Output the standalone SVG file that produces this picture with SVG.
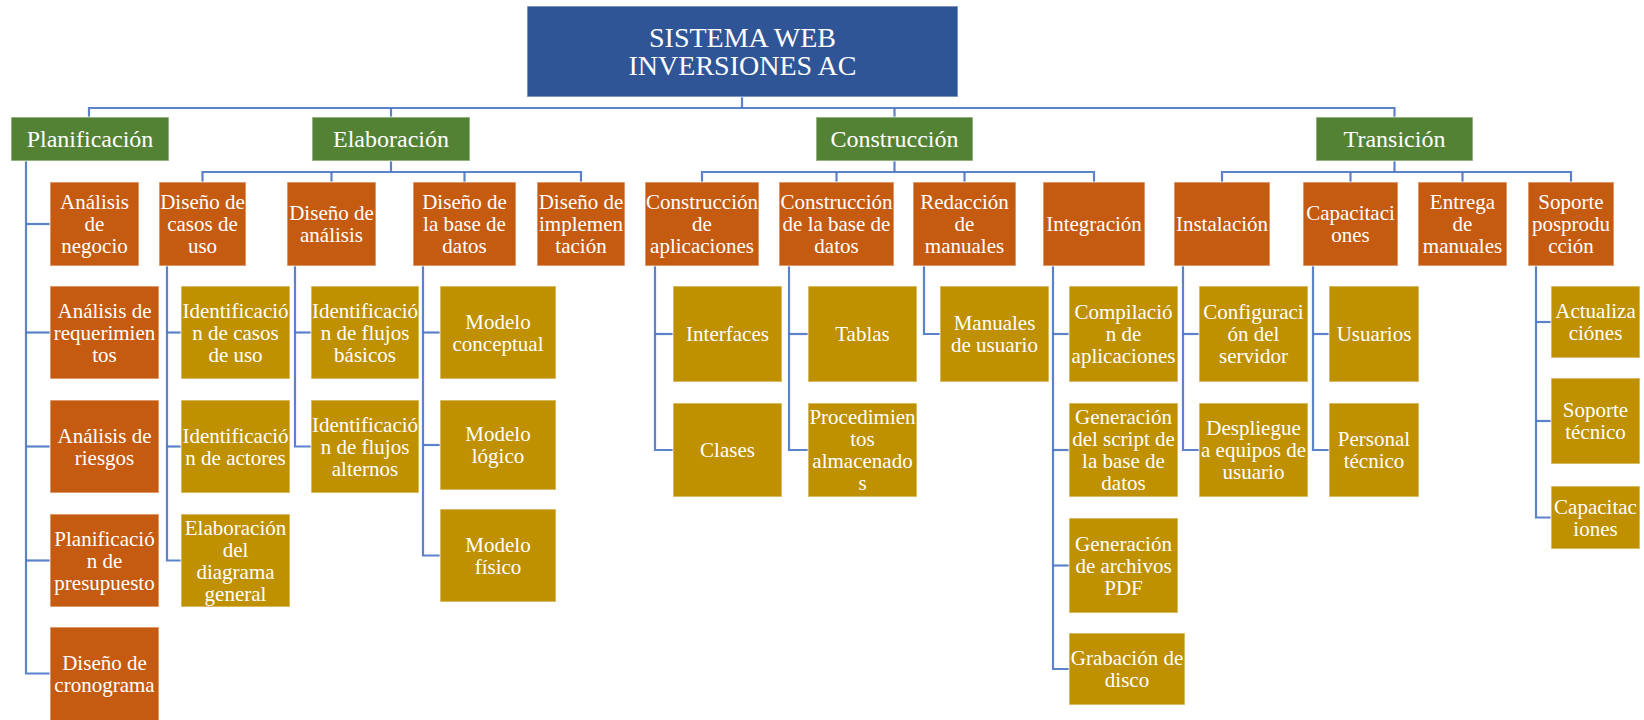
<svg xmlns="http://www.w3.org/2000/svg" width="1644" height="720" viewBox="0 0 1644 720">
  <style>
    .box { stroke: #ffffff; stroke-opacity: 0.5; stroke-width: 1.5; }
    .root { fill: #2F5597; }
    .phase { fill: #548235; }
    .task { fill: #C55A11; }
    .sub { fill: #BF9000; }
    text { font-family: "Liberation Serif", Tinos, "Times New Roman", Times, "Nimbus Roman", "DejaVu Serif", "Noto Serif", serif; fill: #ffffff; text-anchor: middle; font-size: 21px; }
    .t-root { font-size: 28px; }
    .t-phase { font-size: 24px; }
    .link { fill: none; stroke: #4A74C4; stroke-width: 2.2; stroke-opacity: 0.9; }
  </style>
  <rect width="1644" height="720" fill="#ffffff"/>

  <!-- connectors -->
  <g id="connectors" class="link">
    <path d="M742 97 V108"/>
    <path d="M89 117 V108 H1394.5 V117"/>
    <path d="M391 108 V117"/>
    <path d="M894.5 108 V117"/>
    <!-- Elaboración -->
    <path d="M391 161 V172"/>
    <path d="M202.5 182 V172 H581 V182"/>
    <path d="M331.5 172 V182"/>
    <path d="M464.5 172 V182"/>
    <!-- Construcción -->
    <path d="M894.5 161 V172"/>
    <path d="M702 182 V172 H1094 V182"/>
    <path d="M836.5 172 V182"/>
    <path d="M964.5 172 V182"/>
    <!-- Transición -->
    <path d="M1394.5 161 V172"/>
    <path d="M1222 182 V172 H1571 V182"/>
    <path d="M1350.5 172 V182"/>
    <path d="M1462.5 172 V182"/>
    <!-- Planificación list -->
    <path d="M26 161 V673.5 H50"/>
    <path d="M26 224 H50"/>
    <path d="M26 332.5 H50"/>
    <path d="M26 446.5 H50"/>
    <path d="M26 560.5 H50"/>
    <!-- Diseño de casos de uso -->
    <path d="M167 266 V560.5 H181"/>
    <path d="M167 332.5 H181"/>
    <path d="M167 446.5 H181"/>
    <!-- Diseño de análisis -->
    <path d="M295 266 V446.5 H311"/>
    <path d="M295 332.5 H311"/>
    <!-- Diseño de la base de datos -->
    <path d="M423 266 V555.5 H440"/>
    <path d="M423 332.5 H440"/>
    <path d="M423 445 H440"/>
    <!-- Construcción de aplicaciones -->
    <path d="M655 266 V450 H673"/>
    <path d="M655 334 H673"/>
    <!-- Construcción de la base de datos -->
    <path d="M789 266 V450 H808"/>
    <path d="M789 334 H808"/>
    <!-- Redacción de manuales -->
    <path d="M924 266 V334 H940"/>
    <!-- Integración -->
    <path d="M1053 266 V669 H1069"/>
    <path d="M1053 334 H1069"/>
    <path d="M1053 450 H1069"/>
    <path d="M1053 565.5 H1069"/>
    <!-- Instalación -->
    <path d="M1183 266 V450 H1199"/>
    <path d="M1183 334 H1199"/>
    <!-- Capacitaciones -->
    <path d="M1313 266 V450 H1329"/>
    <path d="M1313 334 H1329"/>
    <!-- Soporte posproducción -->
    <path d="M1536 266 V517.5 H1551"/>
    <path d="M1536 322 H1551"/>
    <path d="M1536 421 H1551"/>
  </g>

  <!-- root -->
  <g id="root">
    <rect class="box root" x="527" y="6" width="431" height="91"/>
    <text class="t-root" x="742.5" y="47">SISTEMA WEB</text>
    <text class="t-root" x="742.5" y="75">INVERSIONES AC</text>
  </g>

  <!-- phases -->
  <g id="planificacion">
    <rect class="box phase" x="11" y="117" width="158" height="44"/>
    <text class="t-phase" x="90" y="147">Planificación</text>
  </g>
  <g id="elaboracion">
    <rect class="box phase" x="312" y="117" width="158" height="44"/>
    <text class="t-phase" x="391" y="147">Elaboración</text>
  </g>
  <g id="construccion">
    <rect class="box phase" x="816" y="117" width="157" height="44"/>
    <text class="t-phase" x="894.5" y="147">Construcción</text>
  </g>
  <g id="transicion">
    <rect class="box phase" x="1316" y="117" width="157" height="44"/>
    <text class="t-phase" x="1394.5" y="147">Transición</text>
  </g>

  <!-- Planificación tasks -->
  <g id="analisis-negocio">
    <rect class="box task" x="50" y="182" width="89" height="84"/>
    <text x="94.5" y="209">Análisis</text>
    <text x="94.5" y="231">de</text>
    <text x="94.5" y="253">negocio</text>
  </g>
  <g id="analisis-requerimientos">
    <rect class="box task" x="50" y="286" width="109" height="93"/>
    <text x="104.5" y="317.5">Análisis de</text>
    <text x="104.5" y="339.5">requerimien</text>
    <text x="104.5" y="361.5">tos</text>
  </g>
  <g id="analisis-riesgos">
    <rect class="box task" x="50" y="400" width="109" height="93"/>
    <text x="104.5" y="442.5">Análisis de</text>
    <text x="104.5" y="464.5">riesgos</text>
  </g>
  <g id="planificacion-presupuesto">
    <rect class="box task" x="50" y="514" width="109" height="93"/>
    <text x="104.5" y="545.5">Planificació</text>
    <text x="104.5" y="567.5">n de</text>
    <text x="104.5" y="589.5">presupuesto</text>
  </g>
  <g id="diseno-cronograma">
    <rect class="box task" x="50" y="627" width="109" height="95"/>
    <text x="104.5" y="669.5">Diseño de</text>
    <text x="104.5" y="691.5">cronograma</text>
  </g>

  <!-- Elaboración tasks -->
  <g id="diseno-casos-uso">
    <rect class="box task" x="159" y="182" width="87" height="84"/>
    <text x="202.5" y="209">Diseño de</text>
    <text x="202.5" y="231">casos de</text>
    <text x="202.5" y="253">uso</text>
  </g>
  <g id="diseno-analisis">
    <rect class="box task" x="287" y="182" width="89" height="84"/>
    <text x="331.5" y="220">Diseño de</text>
    <text x="331.5" y="242">análisis</text>
  </g>
  <g id="diseno-base-datos">
    <rect class="box task" x="413" y="182" width="103" height="84"/>
    <text x="464.5" y="209">Diseño de</text>
    <text x="464.5" y="231">la base de</text>
    <text x="464.5" y="253">datos</text>
  </g>
  <g id="diseno-implementacion">
    <rect class="box task" x="537" y="182" width="88" height="84"/>
    <text x="581" y="209">Diseño de</text>
    <text x="581" y="231">implemen</text>
    <text x="581" y="253">tación</text>
  </g>

  <g id="id-casos-uso">
    <rect class="box sub" x="181" y="286" width="109" height="93"/>
    <text x="235.5" y="317.5">Identificació</text>
    <text x="235.5" y="339.5">n de casos</text>
    <text x="235.5" y="361.5">de uso</text>
  </g>
  <g id="id-actores">
    <rect class="box sub" x="181" y="400" width="109" height="93"/>
    <text x="235.5" y="442.5">Identificació</text>
    <text x="235.5" y="464.5">n de actores</text>
  </g>
  <g id="diagrama-general">
    <rect class="box sub" x="181" y="514" width="109" height="93"/>
    <text x="235.5" y="534.5">Elaboración</text>
    <text x="235.5" y="556.5">del</text>
    <text x="235.5" y="578.5">diagrama</text>
    <text x="235.5" y="600.5">general</text>
  </g>
  <g id="flujos-basicos">
    <rect class="box sub" x="311" y="286" width="108" height="93"/>
    <text x="365" y="317.5">Identificació</text>
    <text x="365" y="339.5">n de flujos</text>
    <text x="365" y="361.5">básicos</text>
  </g>
  <g id="flujos-alternos">
    <rect class="box sub" x="311" y="400" width="108" height="93"/>
    <text x="365" y="431.5">Identificació</text>
    <text x="365" y="453.5">n de flujos</text>
    <text x="365" y="475.5">alternos</text>
  </g>
  <g id="modelo-conceptual">
    <rect class="box sub" x="440" y="286" width="116" height="93"/>
    <text x="498" y="328.5">Modelo</text>
    <text x="498" y="350.5">conceptual</text>
  </g>
  <g id="modelo-logico">
    <rect class="box sub" x="440" y="400" width="116" height="90"/>
    <text x="498" y="441">Modelo</text>
    <text x="498" y="463">lógico</text>
  </g>
  <g id="modelo-fisico">
    <rect class="box sub" x="440" y="509" width="116" height="93"/>
    <text x="498" y="551.5">Modelo</text>
    <text x="498" y="573.5">físico</text>
  </g>

  <!-- Construcción tasks -->
  <g id="construccion-aplicaciones">
    <rect class="box task" x="645" y="182" width="114" height="84"/>
    <text x="702" y="209">Construcción</text>
    <text x="702" y="231">de</text>
    <text x="702" y="253">aplicaciones</text>
  </g>
  <g id="construccion-base-datos">
    <rect class="box task" x="779" y="182" width="115" height="84"/>
    <text x="836.5" y="209">Construcción</text>
    <text x="836.5" y="231">de la base de</text>
    <text x="836.5" y="253">datos</text>
  </g>
  <g id="redaccion-manuales">
    <rect class="box task" x="913" y="182" width="103" height="84"/>
    <text x="964.5" y="209">Redacción</text>
    <text x="964.5" y="231">de</text>
    <text x="964.5" y="253">manuales</text>
  </g>
  <g id="integracion">
    <rect class="box task" x="1043" y="182" width="102" height="84"/>
    <text x="1094" y="231">Integración</text>
  </g>

  <g id="interfaces">
    <rect class="box sub" x="673" y="286" width="109" height="96"/>
    <text x="727.5" y="341">Interfaces</text>
  </g>
  <g id="clases">
    <rect class="box sub" x="673" y="403" width="109" height="94"/>
    <text x="727.5" y="457">Clases</text>
  </g>
  <g id="tablas">
    <rect class="box sub" x="808" y="286" width="109" height="96"/>
    <text x="862.5" y="341">Tablas</text>
  </g>
  <g id="procedimientos">
    <rect class="box sub" x="808" y="403" width="109" height="94"/>
    <text x="862.5" y="424">Procedimien</text>
    <text x="862.5" y="446">tos</text>
    <text x="862.5" y="468">almacenado</text>
    <text x="862.5" y="490">s</text>
  </g>
  <g id="manuales-usuario">
    <rect class="box sub" x="940" y="286" width="109" height="96"/>
    <text x="994.5" y="330">Manuales</text>
    <text x="994.5" y="352">de usuario</text>
  </g>
  <g id="compilacion">
    <rect class="box sub" x="1069" y="286" width="109" height="96"/>
    <text x="1123.5" y="319">Compilació</text>
    <text x="1123.5" y="341">n de</text>
    <text x="1123.5" y="363">aplicaciones</text>
  </g>
  <g id="script-base-datos">
    <rect class="box sub" x="1069" y="403" width="109" height="94"/>
    <text x="1123.5" y="424">Generación</text>
    <text x="1123.5" y="446">del script de</text>
    <text x="1123.5" y="468">la base de</text>
    <text x="1123.5" y="490">datos</text>
  </g>
  <g id="archivos-pdf">
    <rect class="box sub" x="1069" y="518" width="109" height="95"/>
    <text x="1123.5" y="550.5">Generación</text>
    <text x="1123.5" y="572.5">de archivos</text>
    <text x="1123.5" y="594.5">PDF</text>
  </g>
  <g id="grabacion-disco">
    <rect class="box sub" x="1069" y="633" width="116" height="72"/>
    <text x="1127" y="665">Grabación de</text>
    <text x="1127" y="687">disco</text>
  </g>

  <!-- Transición tasks -->
  <g id="instalacion">
    <rect class="box task" x="1174" y="182" width="96" height="84"/>
    <text x="1222" y="231">Instalación</text>
  </g>
  <g id="capacitaciones">
    <rect class="box task" x="1303" y="182" width="95" height="84"/>
    <text x="1350.5" y="220">Capacitaci</text>
    <text x="1350.5" y="242">ones</text>
  </g>
  <g id="entrega-manuales">
    <rect class="box task" x="1418" y="182" width="89" height="84"/>
    <text x="1462.5" y="209">Entrega</text>
    <text x="1462.5" y="231">de</text>
    <text x="1462.5" y="253">manuales</text>
  </g>
  <g id="soporte-posproduccion">
    <rect class="box task" x="1528" y="182" width="86" height="84"/>
    <text x="1571" y="209">Soporte</text>
    <text x="1571" y="231">posprodu</text>
    <text x="1571" y="253">cción</text>
  </g>

  <g id="configuracion-servidor">
    <rect class="box sub" x="1199" y="286" width="109" height="96"/>
    <text x="1253.5" y="319">Configuraci</text>
    <text x="1253.5" y="341">ón del</text>
    <text x="1253.5" y="363">servidor</text>
  </g>
  <g id="despliegue">
    <rect class="box sub" x="1199" y="403" width="109" height="94"/>
    <text x="1253.5" y="435">Despliegue</text>
    <text x="1253.5" y="457">a equipos de</text>
    <text x="1253.5" y="479">usuario</text>
  </g>
  <g id="usuarios">
    <rect class="box sub" x="1329" y="286" width="90" height="96"/>
    <text x="1374" y="341">Usuarios</text>
  </g>
  <g id="personal-tecnico">
    <rect class="box sub" x="1329" y="403" width="90" height="94"/>
    <text x="1374" y="446">Personal</text>
    <text x="1374" y="468">técnico</text>
  </g>
  <g id="actualizaciones">
    <rect class="box sub" x="1551" y="286" width="89" height="72"/>
    <text x="1595.5" y="318">Actualiza</text>
    <text x="1595.5" y="340">ciónes</text>
  </g>
  <g id="soporte-tecnico">
    <rect class="box sub" x="1551" y="378" width="89" height="86"/>
    <text x="1595.5" y="417">Soporte</text>
    <text x="1595.5" y="439">técnico</text>
  </g>
  <g id="capacitaciones-soporte">
    <rect class="box sub" x="1551" y="486" width="89" height="63"/>
    <text x="1595.5" y="513.5">Capacitac</text>
    <text x="1595.5" y="535.5">iones</text>
  </g>
</svg>
